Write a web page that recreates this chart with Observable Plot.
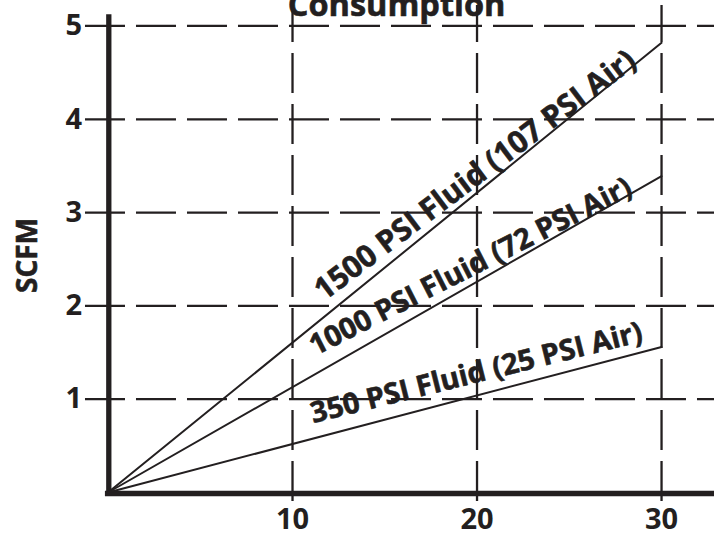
<!DOCTYPE html>
<html>
<head>
<meta charset="utf-8">
<script src="https://cdn.jsdelivr.net/npm/d3@7"></script>
<script src="https://cdn.jsdelivr.net/npm/@observablehq/plot@0.6"></script>
<style>
  html, body { margin: 0; padding: 0; background: #fff; }
  #chart { width: 714px; height: 537px; overflow: hidden; }
</style>
</head>
<body>
<div id="chart"></div>
<script>
// ---- data ----
const title = "Consumption";
const yLabel = "SCFM";
const seriesNames = ["1500 PSI Fluid (107 PSI Air)", "1000 PSI Fluid (72 PSI Air)", "350 PSI Fluid (25 PSI Air)"];
const flowStart = 0;
const flowEnd = 30;
const scfmStart = [0, 0, 0];
const scfmEnd = [4.82, 3.39, 1.56];
const xTicks = [10, 20, 30];
const yTicks = [1, 2, 3, 4, 5];

// ---- layout (not data) ----
const ink = "#231f20";
const font = "Open Sans";
const labelLayout = [
  {x: 19.9, y: 3.40, rotate: -37, size: 30.5},
  {x: 19.65, y: 2.42, rotate: -27, size: 29},
  {x: 19.97, y: 1.28, rotate: -14, size: 29}
];

const lineRows = seriesNames.flatMap((s, i) => [
  {series: s, x: flowStart, y: scfmStart[i]},
  {series: s, x: flowEnd, y: scfmEnd[i]}
]);
const labelRows = seriesNames.map((s, i) => ({text: s, ...labelLayout[i]}));

const heavy = {fill: ink, stroke: ink, strokeWidth: 0.6, fontWeight: "bold"};

const chart = Plot.plot({
  width: 714,
  height: 537,
  marginLeft: 107.5,
  marginRight: 0,
  marginTop: 0,
  marginBottom: 45,
  style: {fontFamily: font, color: ink, background: "#fff", overflow: "visible"},
  x: {domain: [0, 32.87]},
  y: {domain: [0, 5.273]},
  marks: [
    // dashed grid with tick extensions
    Plot.ruleY(yTicks, {x1: -1.22, x2: 32.87, stroke: ink, strokeWidth: 2.3, strokeDasharray: "40,11"}),
    Plot.ruleX(xTicks, {y1: 5.22, y2: -0.14, stroke: ink, strokeWidth: 2.3, strokeDasharray: "40,11", strokeDashoffset: 3}),
    // axes
    Plot.ruleX([0], {y1: -0.03, y2: 5.12, stroke: ink, strokeWidth: 5.3, dx: 0.8}),
    Plot.ruleY([0], {x1: -0.14, x2: 32.87, stroke: ink, strokeWidth: 5.3, dy: 1}),
    // series lines
    Plot.line(lineRows, {x: "x", y: "y", z: "series", stroke: ink, strokeWidth: 2}),
    // series labels
    Plot.text(labelRows, {x: "x", y: "y", text: "text", rotate: "rotate", fontSize: d => d.size, ...heavy, textAnchor: "middle", lineAnchor: "middle"}),
    // tick labels
    Plot.axisY(yTicks, {anchor: "left", tickSize: 0, tickPadding: 26, fontSize: 29, ...heavy, label: null, tickFormat: d => String(d)}),
    Plot.axisX(xTicks, {anchor: "bottom", tickSize: 0, tickPadding: 16, fontSize: 29, ...heavy, label: null, tickFormat: d => String(d)}),
    // y label
    Plot.text([yLabel], {x: -4.36, y: 2.54, text: d => d, rotate: -90, fontSize: 28, ...heavy, textAnchor: "middle", lineAnchor: "middle"}),
    // title (cut off at top as in reference)
    Plot.text([title], {x: 15.64, y: 5.222, text: d => d, fontSize: 32.5, ...heavy, textAnchor: "middle", lineAnchor: "middle"})
  ]
});
document.getElementById("chart").appendChild(chart);
</script>
</body>
</html>
